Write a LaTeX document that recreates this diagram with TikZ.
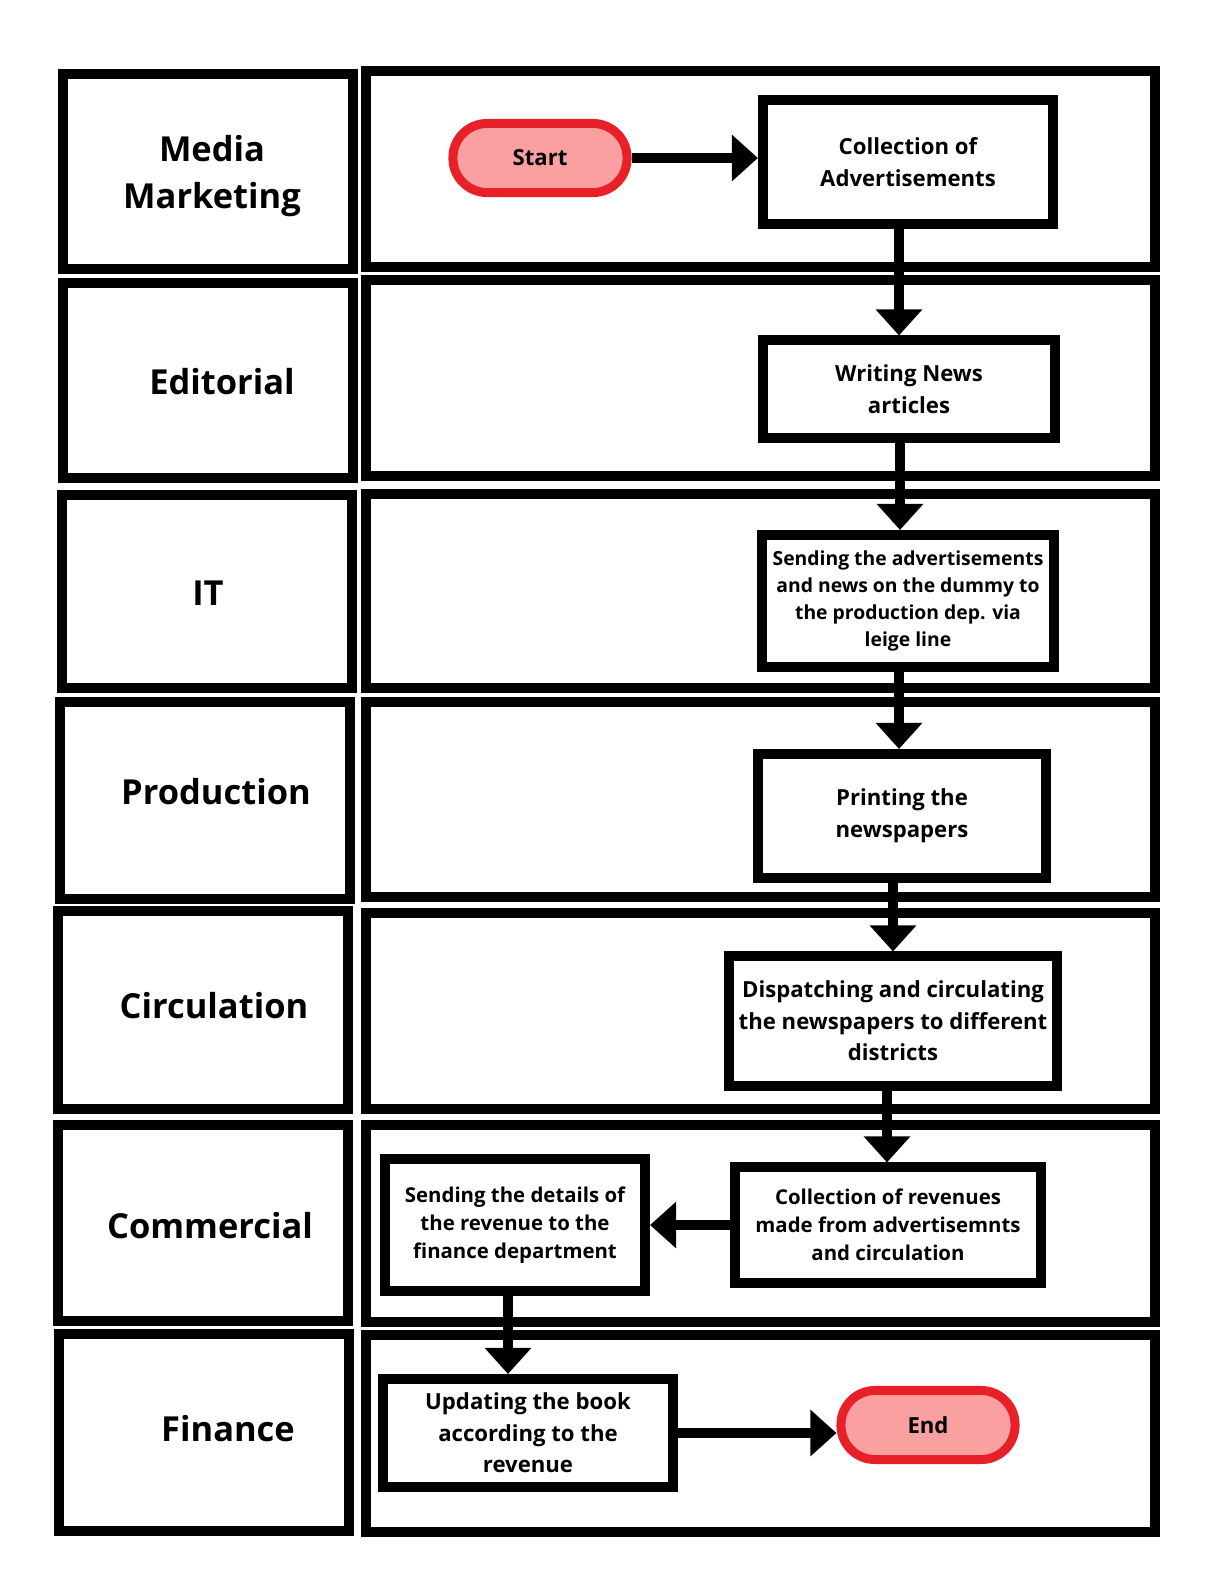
\documentclass[tikz,border=0pt]{standalone}
\usepackage{fontspec}
\setmainfont{Open Sans}
\usetikzlibrary{arrows.meta,calc}
\definecolor{termred}{RGB}{232,32,40}
\definecolor{termpink}{RGB}{250,160,160}

\begin{document}
\begin{tikzpicture}[x=0.01cm,y=-0.01cm,
	lane/.style={line width=0.1cm},
	lanetext/.style={font=\fontsize{9.8}{13.6}\selectfont\bfseries,align=center},
	task/.style={draw,line width=0.1cm,align=center,inner sep=0pt,font=\fontsize{6.3}{9}\selectfont\bfseries},
	smalltask/.style={task,font=\fontsize{5.8}{8}\selectfont\bfseries},
	terminal/.style={draw=termred,fill=termpink,line width=0.09cm,rounded corners=0.34cm,minimum width=1.74cm,minimum height=0.69cm,font=\fontsize{6.3}{9}\selectfont\bfseries},
	flow/.style={line width=0.1cm,-{Triangle[length=0.26cm,width=0.45cm]}}]
					\useasboundingbox (0,0) rectangle (1212,1587);
					%LANES
					\draw[lane] (63,74) rectangle (353,269);
					\draw[lane] (366,71) rectangle (1155,267);
					\draw[lane] (63,283) rectangle (353,478);
					\draw[lane] (366,280) rectangle (1155,476);
					\draw[lane] (62,495) rectangle (352,688);
					\draw[lane] (366,494) rectangle (1155,688);
					\draw[lane] (60,702) rectangle (350,899);
					\draw[lane] (366,702) rectangle (1155,897);
					\draw[lane] (58,911) rectangle (348,1109);
					\draw[lane] (366,913) rectangle (1155,1109);
					\draw[lane] (58,1125) rectangle (348,1321);
					\draw[lane] (366,1125) rectangle (1155,1322);
					\draw[lane] (59,1334) rectangle (349,1531);
					\draw[lane] (366,1335) rectangle (1155,1532);
					%LANE NAMES
					\node[lanetext] (mm) at (212,176) {Media\\Marketing};
					\node[lanetext] (editorial) at (222,382) {Editorial};
					\node[lanetext] (it) at (208,593) {IT};
					\node[lanetext] (production) at (216,792) {Production};
					\node[lanetext] (circulation) at (214,1006) {Circulation};
					\node[lanetext] (commercial) at (210,1226) {Commercial};
					\node[lanetext] (finance) at (228,1429) {Finance};
					%TASKS
					\node[terminal] (start) at (540,158) {Start};
					\node[task,minimum width=2.90cm,minimum height=1.23cm] (ads) at (908,162) {Collection of\\Advertisements};
					\node[task,minimum width=2.91cm,minimum height=0.97cm] (news) at (909,389) {Writing News\\articles};
					\node[smalltask,font=\fontsize{5.5}{7.7}\selectfont\bfseries,minimum width=2.91cm,minimum height=1.32cm] (dummy) at (908,601) {Sending the advertisements\\and news on the dummy to\\the production dep. via\\leige line};
					\node[task,minimum width=2.88cm,minimum height=1.24cm] (print) at (902,816) {Printing the\\newspapers};
					\node[task,minimum width=3.28cm,minimum height=1.29cm] (dispatch) at (893,1021) {Dispatching and circulating\\the newspapers to different\\districts};
					\node[smalltask,minimum width=3.06cm,minimum height=1.15cm] (revenue) at (888,1225) {Collection of revenues\\made from advertisemnts\\and circulation};
					\node[smalltask,minimum width=2.60cm,minimum height=1.32cm] (details) at (515,1225) {Sending the details of\\the revenue to the\\finance department};
					\node[task,minimum width=2.90cm,minimum height=1.08cm] (book) at (528,1433) {Updating the book\\according to the\\revenue};
					\node[terminal] (finish) at (928,1425) {End};
					%ARROWS
					\draw[flow] (start.east) -- (start.east -| ads.west);
					\draw[flow] ($(ads.south)+(-9,0)$) -- ($(ads.south |- news.north)+(-9,0)$);
					\draw[flow] ($(news.south)+(-9,0)$) -- ($(news.south |- dummy.north)+(-9,0)$);
					\draw[flow] ($(dummy.south)+(-9,0)$) -- ($(dummy.south |- print.north)+(-9,0)$);
					\draw[flow] ($(print.south)+(-9,0)$) -- ($(print.south |- dispatch.north)+(-9,0)$);
					\draw[flow] ($(dispatch.south)+(-6,0)$) -- ($(dispatch.south |- revenue.north)+(-6,0)$);
					\draw[flow] (revenue.west) -- (revenue.west -| details.east);
					\draw[flow] ($(details.south)+(-7,0)$) -- ($(details.south |- book.north)+(-7,0)$);
					\draw[flow] (book.east) -- (book.east -| finish.west);
				  \end{tikzpicture}
\end{document}
